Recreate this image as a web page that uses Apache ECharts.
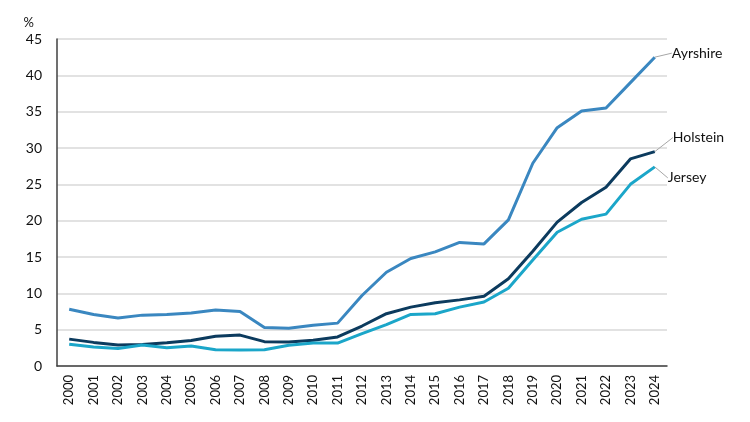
<!DOCTYPE html>
<html>
<head>
<meta charset="utf-8">
<script src="https://cdn.jsdelivr.net/npm/echarts@6/dist/echarts.min.js"></script>
<style>html,body{margin:0;padding:0;background:#fff}#c{width:750px;height:422px}</style>
</head>
<body>
<div id="c"></div>
<script>
const years = ['2000','2001','2002','2003','2004','2005','2006','2007','2008','2009','2010','2011','2012','2013','2014','2015','2016','2017','2018','2019','2020','2021','2022','2023','2024'];
const ayrshire = [7.8,7.1,6.6,7.0,7.1,7.3,7.7,7.5,5.3,5.2,5.6,5.9,9.7,12.9,14.8,15.7,17.0,16.8,20.1,27.9,32.8,35.1,35.5,39.0,42.5];
const holstein = [3.7,3.25,2.9,2.95,3.2,3.5,4.1,4.25,3.35,3.3,3.55,4.0,5.5,7.2,8.1,8.7,9.1,9.6,12.0,15.8,19.8,22.5,24.6,28.5,29.5];
const jersey   = [3.0,2.6,2.4,2.9,2.5,2.75,2.25,2.2,2.25,2.85,3.15,3.15,4.45,5.7,7.1,7.2,8.1,8.8,10.7,14.6,18.4,20.2,20.9,25.0,27.4];
const yTicks = [0,5,10,15,20,25,30,35,40,45];

const FONT = 'Lato';
function mk(name, vals, color, dy, dx) {
  const last = vals.length - 1;
  const data = vals.map((v, i) => i === last ? {
    value: v,
    symbol: 'circle', symbolSize: 0,
    label: {show: true, formatter: name, position: 'right', distance: 6,
            color: '#111', fontSize: 14, fontFamily: FONT},
    labelLine: {show: true, length2: 7, smooth: false, lineStyle: {color: '#a6a6a6', width: 1}}
  } : {value: v, symbol: 'none'});
  return {
    name, type: 'line', data, symbol: 'circle', symbolSize: 0, showSymbol: true, smooth: false,
    lineStyle: {color, width: 3}, itemStyle: {color},
    labelLayout: (p) => p.dataIndex === last ? {dy: dy, dx: dx} : {},
    labelLine: {show: false},
    animation: false, z: 3
  };
}
const chart = echarts.init(document.getElementById('c'), null, {renderer: 'canvas'});
chart.setOption({
  animation: false,
  grid: {left: 57, right: 83, top: 39, bottom: 56, containLabel: false},
  xAxis: {
    type: 'category', data: years, boundaryGap: true,
    axisLine: {lineStyle: {color: '#404040', width: 1.5}},
    axisTick: {show: false},
    axisLabel: {rotate: 90, fontSize: 13, fontFamily: FONT, color: '#111', margin: 9, interval: 0}
  },
  yAxis: {
    type: 'value', min: yTicks[0], max: yTicks[yTicks.length - 1], interval: 5,
    name: '%', nameLocation: 'end', nameGap: 10,
    nameTextStyle: {fontSize: 13, fontFamily: FONT, color: '#111', align: 'right', padding: [0, 23, 0, 0]},
    axisLine: {show: true, lineStyle: {color: '#404040', width: 1.5}},
    axisTick: {show: false},
    axisLabel: {fontSize: 14, fontFamily: FONT, color: '#111', margin: 15},
    splitLine: {lineStyle: {color: '#d9d9d9', width: 1.5}}
  },
  series: [
    mk('Ayrshire', ayrshire, '#3a87c0', -4, 11),
    mk('Holstein', holstein, '#0c3b5e', -14, 12),
    mk('Jersey', jersey, '#1ba6c9', 11, 7)
  ]
});
</script>
</body>
</html>
